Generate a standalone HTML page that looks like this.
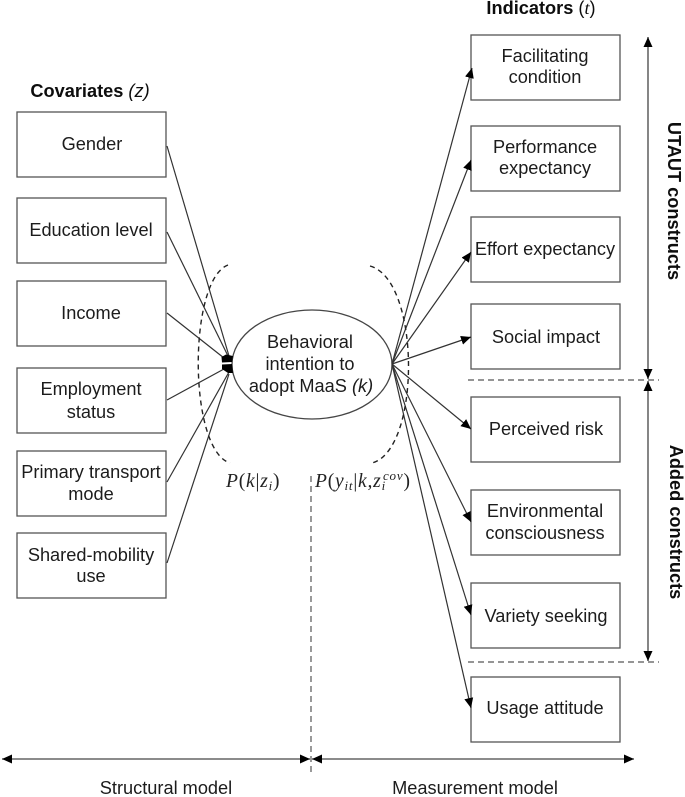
<!DOCTYPE html>
<html><head><meta charset="utf-8"><style>
html,body{margin:0;padding:0;background:#fff}
svg{display:block}
text{font-family:"Liberation Sans",sans-serif;font-size:18.2px;fill:#1c1c1c;text-anchor:middle}
.m{font-family:"Liberation Serif",serif;font-style:italic;font-size:19.5px;letter-spacing:.8px;text-anchor:start;fill:#222}
.b{font-weight:bold;fill:#111}
</style></head><body>
<svg width="685" height="797" viewBox="0 0 685 797" xmlns="http://www.w3.org/2000/svg">
<defs>
<marker id="a" markerUnits="userSpaceOnUse" markerWidth="12" markerHeight="12" refX="10" refY="5" orient="auto-start-reverse"><path d="M0 0.5L10 5L0 9.5Z" fill="#000"/></marker>
<filter id="s" x="0" y="0" width="100%" height="100%"><feGaussianBlur stdDeviation="0.35"/></filter>
</defs>
<g filter="url(#s)">
<g fill="#fff" stroke="#555" stroke-width="1.3">
<rect x="17" y="112" width="149" height="65"/>
<rect x="17" y="198" width="149" height="65"/>
<rect x="17" y="281" width="149" height="65"/>
<rect x="17" y="368" width="149" height="65"/>
<rect x="17" y="451" width="149" height="65"/>
<rect x="17" y="533" width="149" height="65"/>
<rect x="471" y="35" width="149" height="65"/>
<rect x="471" y="126" width="149" height="65"/>
<rect x="471" y="217" width="149" height="65"/>
<rect x="471" y="304" width="149" height="65"/>
<rect x="471" y="397" width="149" height="65"/>
<rect x="471" y="490" width="149" height="65"/>
<rect x="471" y="583" width="149" height="65"/>
<rect x="471" y="677" width="149" height="65"/>
</g>
<ellipse cx="312" cy="364.5" rx="80" ry="54.5" fill="#fff" stroke="#444" stroke-width="1.3"/>
<g stroke="#333" stroke-width="1.2" fill="none">
<line x1="167" y1="146" x2="229" y2="356"/>
<line x1="167" y1="232" x2="229" y2="358"/>
<line x1="167" y1="313" x2="224" y2="358"/>
<line x1="167" y1="400" x2="224" y2="369"/>
<line x1="167" y1="482" x2="229" y2="372"/>
<line x1="167" y1="563" x2="229" y2="374"/>
</g>
<path d="M221.5 357L226 354.5L233 356L232 362L222 362.5Z M222 364.5L232 364L233 373L228 373L222 369Z" fill="#000"/>
<g stroke="#333" stroke-width="1.2" fill="none" marker-end="url(#a)">
<line x1="392" y1="364" x2="472" y2="68"/>
<line x1="392" y1="364" x2="471" y2="160"/>
<line x1="392" y1="364" x2="471" y2="252"/>
<line x1="392" y1="364" x2="471" y2="337"/>
<line x1="392" y1="364" x2="471" y2="429"/>
<line x1="392" y1="364" x2="471" y2="522"/>
<line x1="392" y1="364" x2="471" y2="615"/>
<line x1="392" y1="364" x2="471" y2="708"/>
</g>
<g stroke="#222" stroke-width="1.4" fill="none" stroke-dasharray="5 4">
<path d="M228 265C188 280 188 450 230 463"/>
<path d="M370 266C421 280 421 450 372 463"/>
</g>
<g stroke="#555" stroke-width="1.2" fill="none" stroke-dasharray="6 4">
<line x1="468" y1="380" x2="659" y2="380"/>
<line x1="468" y1="662" x2="659" y2="662"/>
<line x1="311" y1="476" x2="311" y2="772"/>
</g>
<g stroke="#444" stroke-width="1.3" fill="none" marker-start="url(#a)" marker-end="url(#a)">
<line x1="648" y1="37" x2="648" y2="379"/>
<line x1="648" y1="381" x2="648" y2="661"/>
<line x1="2" y1="759" x2="310" y2="759"/>
<line x1="312" y1="759" x2="634" y2="759"/>
</g>
<text x="90" y="97" class="b">Covariates <tspan font-style="italic" font-weight="normal">(z)</tspan></text>
<text x="541" y="14" class="b">Indicators <tspan font-weight="normal">(<tspan font-family="Liberation Serif" font-style="italic">t</tspan>)</tspan></text>
<text x="92" y="150">Gender</text>
<text x="91" y="236">Education level</text>
<text x="91" y="319">Income</text>
<text x="91" y="395">Employment</text>
<text x="91" y="418">status</text>
<text x="91" y="478">Primary transport</text>
<text x="91" y="500">mode</text>
<text x="91" y="561">Shared-mobility</text>
<text x="91" y="582">use</text>
<text x="545" y="62">Facilitating</text>
<text x="545" y="83">condition</text>
<text x="545" y="153">Performance</text>
<text x="545" y="174">expectancy</text>
<text x="545" y="255">Effort expectancy</text>
<text x="546" y="343">Social impact</text>
<text x="546" y="435">Perceived risk</text>
<text x="545" y="517">Environmental</text>
<text x="545" y="539">consciousness</text>
<text x="546" y="622">Variety seeking</text>
<text x="545" y="714">Usage attitude</text>
<text x="310" y="348">Behavioral</text>
<text x="310" y="370">intention to</text>
<text x="311" y="392">adopt MaaS <tspan font-style="italic">(k)</tspan></text>
<text x="166" y="794">Structural model</text>
<text x="475" y="794">Measurement model</text>
<text transform="translate(668,201) rotate(90)" class="b">UTAUT constructs</text>
<text transform="translate(670,522) rotate(90)" class="b">Added constructs</text>
<text x="226" y="487" class="m">P<tspan font-style="normal">(</tspan>k<tspan font-style="normal">|</tspan>z<tspan font-size="13" dy="3">i</tspan><tspan font-style="normal" dy="-3">)</tspan></text>
<text x="315" y="487" class="m">P<tspan font-style="normal">(</tspan>y<tspan font-size="13" dy="3">it</tspan><tspan font-style="normal" dy="-3">|</tspan>k,z<tspan font-size="13" dy="3">i</tspan><tspan font-size="13" dy="-10" dx="-3">cov</tspan><tspan font-style="normal" dy="7">)</tspan></text>
</g>
</svg>
</body></html>
